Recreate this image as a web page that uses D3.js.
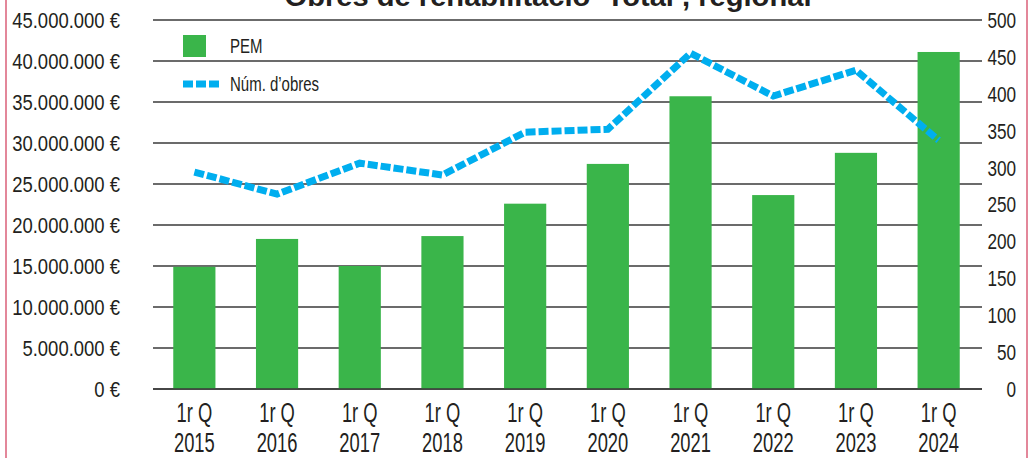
<!DOCTYPE html>
<html>
<head>
    <title>Obres de rehabilitació</title>
    <meta charset="utf-8">
</head>
<body style="margin:0;background:#fff">
<style>
    text {
        font-family: "Liberation Sans", Arial, sans-serif;
        fill: #231f20;
    }
</style>
<script src="https://d3js.org/d3.v7.min.js"></script>
<script>
    const SIZES = {
        WIDTH: 1029,
        HEIGHT: 458,
        LEFT: 153,
        RIGHT: 980,
        GRID_END: 982,
        TOP: 20,
        BOTTOM: 389
    };
    const COLORS = {GREEN: '#3ab54a', BLUE: '#00aeef', GRID: '#3a3a3a', BORDER: '#e3879a'};

    // data
    const years = ['2015', '2016', '2017', '2018', '2019', '2020', '2021', '2022', '2023', '2024'];
    const pem = [14.9e6, 18.3e6, 15.0e6, 18.65e6, 22.6e6, 27.45e6, 35.7e6, 23.65e6, 28.8e6, 41.1e6];
    const obres = [294, 264, 306, 290, 348, 352, 455, 397, 432, 337];
    const leftTicks = d3.range(0, 45e6 + 1, 5e6);
    const rightTicks = d3.range(0, 501, 50);
    const legendLabels = ['PEM', 'Núm. d\u2019obres'];
    const title = 'Obres de rehabilitació \u2018Total\u2019, regional';

    const svg = d3.select('body').append('svg')
        .attr('width', SIZES.WIDTH)
        .attr('height', SIZES.HEIGHT);

    const x = d3.scaleBand().domain(years).range([SIZES.LEFT, SIZES.RIGHT]).paddingInner(0.49).paddingOuter(0.245);
    const yLeft = d3.scaleLinear().domain([0, 45e6]).range([SIZES.BOTTOM, SIZES.TOP]);
    const yRight = d3.scaleLinear().domain([0, 500]).range([SIZES.BOTTOM, SIZES.TOP]);

    const locale = d3.formatLocale({decimal: ',', thousands: '.', grouping: [3], currency: ['', '']});
    const fmt = locale.format(',');

    // the original font is a narrow one, so squeeze a regular sans horizontally
    function narrowText(parent, px, py, str, size, anchor, sx) {
        return parent.append('g')
            .attr('transform', `translate(${px},${py}) scale(${sx},1)`)
            .append('text')
            .attr('dy', '0.36em')
            .attr('text-anchor', anchor)
            .style('font-size', size + 'px')
            .text(str);
    }

    // pink side borders
    svg.selectAll('.border').data([6, 1027]).enter().append('line')
        .attr('x1', d => d).attr('x2', d => d)
        .attr('y1', 0).attr('y2', SIZES.HEIGHT)
        .attr('stroke', COLORS.BORDER).attr('stroke-width', 2);

    // title (cut by the top edge in the original too)
    const t = svg.append('g').append('text')
        .attr('text-anchor', 'middle')
        .style('font-size', '27px').style('font-weight', 'bold')
        .text(title);
    const tw = t.node().getComputedTextLength();
    d3.select(t.node().parentNode).attr('transform', `translate(548,6) scale(${527 / tw},1)`);

    // grid lines from left axis
    svg.append('g').selectAll('line').data(leftTicks).enter().append('line')
        .attr('x1', SIZES.LEFT).attr('x2', SIZES.GRID_END)
        .attr('y1', d => yLeft(d)).attr('y2', d => yLeft(d))
        .attr('stroke', COLORS.GRID).attr('stroke-width', 1.5);

    // axis labels
    leftTicks.forEach(d => narrowText(svg, 120, yLeft(d), fmt(d) + ' €', 22, 'end', 0.84));
    rightTicks.forEach(d => narrowText(svg, 1016, yRight(d), d, 22, 'end', 0.78));

    // bars
    svg.append('g').selectAll('rect').data(pem).enter().append('rect')
        .attr('x', (d, i) => x(years[i]))
        .attr('width', x.bandwidth())
        .attr('y', d => yLeft(d))
        .attr('height', d => yLeft(0) - yLeft(d))
        .attr('fill', COLORS.GREEN);

    // baseline on top of the bars
    svg.append('line')
        .attr('x1', SIZES.LEFT).attr('x2', SIZES.GRID_END)
        .attr('y1', yLeft(0)).attr('y2', yLeft(0))
        .attr('stroke', COLORS.GRID).attr('stroke-width', 1.5);

    // dashed line
    const line = d3.line()
        .x((d, i) => x(years[i]) + x.bandwidth() / 2)
        .y(d => yRight(d));

    svg.append('path')
        .datum(obres)
        .attr('d', line)
        .attr('fill', 'none')
        .attr('stroke', COLORS.BLUE)
        .attr('stroke-width', 7)
        .attr('stroke-dasharray', '10,3');

    // category labels
    years.forEach(d => {
        const cx = x(d) + x.bandwidth() / 2;
        narrowText(svg, cx, 412, '1r Q', 27, 'middle', 0.68);
        narrowText(svg, cx, 442, d, 27, 'middle', 0.68);
    });

    // legend
    const legend = svg.append('g');
    legend.append('rect')
        .attr('x', 183).attr('y', 35).attr('width', 23).attr('height', 22)
        .attr('fill', COLORS.GREEN);
    legend.append('line')
        .attr('x1', 183).attr('x2', 219).attr('y1', 84).attr('y2', 84)
        .attr('stroke', COLORS.BLUE).attr('stroke-width', 7)
        .attr('stroke-dasharray', '10,3');
    legendLabels.forEach((d, i) => narrowText(legend, 230, 46 + i * 38, d, 20, 'start', 0.75));
</script>
</body>
</html>
